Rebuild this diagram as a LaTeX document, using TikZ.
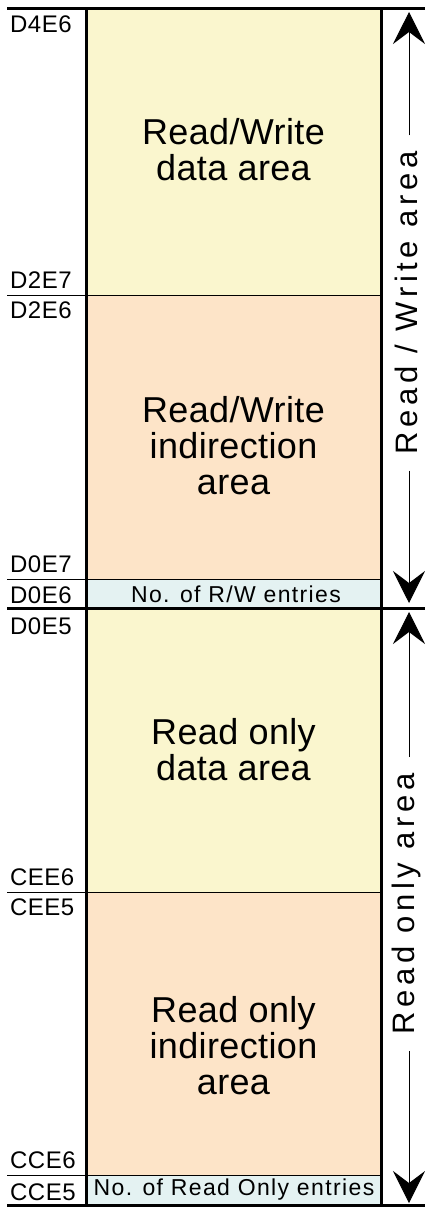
\documentclass[tikz,border=0pt]{standalone}
\usepackage{fontspec}
\setmainfont{Liberation Sans}
\newfontfamily\areafont[LetterSpace=1]{Liberation Sans}
\newfontfamily\addrfont[LetterSpace=2]{Liberation Sans}
\newfontfamily\cntfont[LetterSpace=6]{Liberation Sans}
\newfontfamily\sidefont[LetterSpace=15]{Liberation Sans}
\usetikzlibrary{arrows.meta}
\definecolor{datafill}{RGB}{250,246,206}
\definecolor{indfill}{RGB}{253,228,200}
\definecolor{cntfill}{RGB}{228,242,242}
\tikzset{
  addr/.style={anchor=base west,inner sep=0pt,font={\addrfont\fontsize{24}{26}\selectfont}},
  areatext/.style={align=center,inner sep=0pt,font={\areafont\fontsize{36}{36}\selectfont}},
  cnttext/.style={inner sep=0pt,font={\cntfont\fontsize{23}{24}\selectfont}},
  sidetext/.style={rotate=90,inner xsep=16pt,inner ysep=0pt,font={\sidefont\fontsize{31}{32}\selectfont}},
  sidearrow/.style={line width=1pt,-{Stealth[length=32pt,width=32pt,inset=12pt]}},
  thickline/.style={line width=3pt},
  thinline/.style={line width=1pt}
}
\begin{document}
\begin{tikzpicture}[x=1pt,y=-1pt]
  \useasboundingbox (0,0) rectangle (425,1207);
  % memory blocks
  \fill[datafill] (86,9) rectangle (381,295);
  \fill[indfill] (86,295) rectangle (381,579);
  \fill[cntfill] (86,579) rectangle (381,608);
  \fill[datafill] (86,608) rectangle (381,892);
  \fill[indfill] (86,892) rectangle (381,1175);
  \fill[cntfill] (86,1175) rectangle (381,1205);
  \foreach \y in {295,579,892,1175}
    \draw[thinline] (7,\y) -- (381,\y);
  \foreach \y in {9,608,1205}
    \draw[thickline] (7,\y) -- (425,\y);
  \draw[thickline] (86,9) -- (86,1205);
  \draw[thickline] (381,9) -- (381,1205);
  % addresses
  \node[addr] (a1) at (10,33) {D4E6};
  \node[addr] (a2) at (10,288) {D2E7};
  \node[addr] (a3) at (10,318) {D2E6};
  \node[addr] (a4) at (10,572) {D0E7};
  \node[addr] (a5) at (10,603) {D0E6};
  \node[addr] (a6) at (10,634) {D0E5};
  \node[addr] (a7) at (10,885) {CEE6};
  \node[addr] (a8) at (10,915) {CEE5};
  \node[addr] (a9) at (10,1168) {CCE6};
  \node[addr] (a10) at (10,1200) {CCE5};
  % block texts
  \node[areatext] (rwdata) at (233.5,150) {Read/Write\\data area};
  \node[areatext] (rwind) at (233.5,446) {Read/Write\\indirection\\area};
  \node[cnttext] (rwcnt) at (236,594) {No. of R/W entries};
  \node[areatext] (rodata) at (233.5,750) {Read only\\data area};
  \node[areatext] (roind) at (233.5,1046) {Read only\\indirection\\area};
  \node[cnttext] (rocnt) at (234,1190) {No. of Read Only entries};
  % side arrows
  \coordinate (rwtop) at (409,12);
  \coordinate (rwbot) at (409,603);
  \coordinate (rotop) at (409,612);
  \coordinate (robot) at (409,1203);
  \node[sidetext] (rwside) at (406,303) {Read / Write area};
  \node[sidetext] (roside) at (406,904) {Read only area};
  \draw[sidearrow] (rwside.east -| rwtop) -- (rwtop);
  \draw[sidearrow] (rwside.west -| rwbot) -- (rwbot);
  \draw[sidearrow] (roside.east -| rotop) -- (rotop);
  \draw[sidearrow] (roside.west -| robot) -- (robot);
\end{tikzpicture}
\end{document}
